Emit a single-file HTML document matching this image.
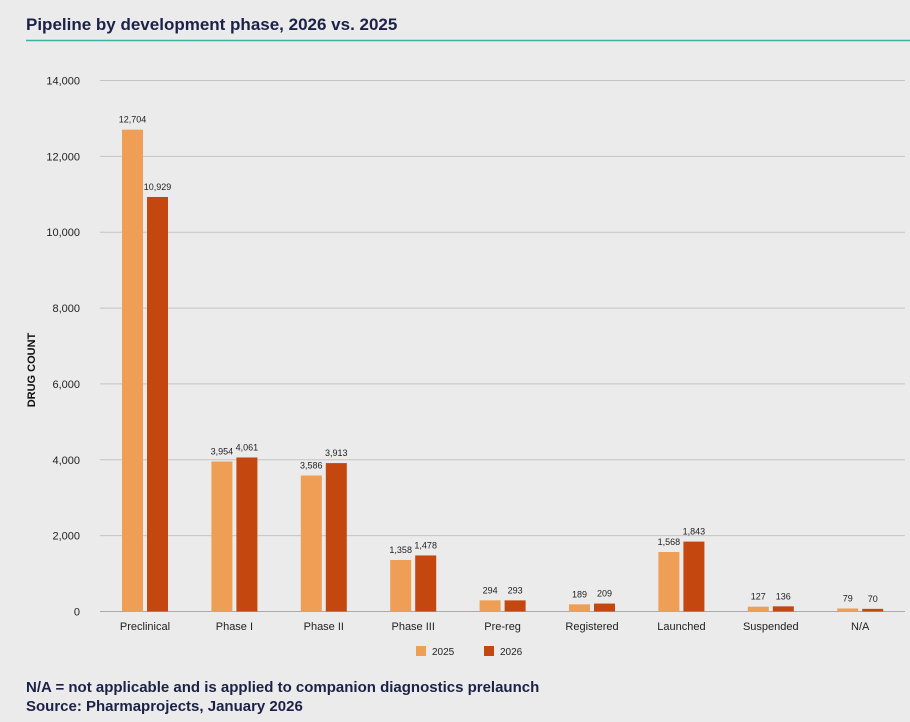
<!DOCTYPE html>
<html><head><meta charset="utf-8"><style>
body{margin:0;background:#ebebeb;width:910px;height:717px;overflow:hidden;font-family:"Liberation Sans",sans-serif;}
</style></head><body>
<svg width="910" height="717" id="c">
<text x="26" y="30" font-size="17" font-weight="bold" fill="#1c2147">Pipeline by development phase, 2026 vs. 2025</text>
<line x1="26" y1="40.5" x2="910" y2="40.5" stroke="#3bb3a4" stroke-width="1.5"/>
<text transform="translate(35,370) rotate(-90)" text-anchor="middle" font-size="11" font-weight="bold" fill="#111">DRUG COUNT</text>
<g id="legend">
<rect x="416" y="646" width="10" height="10" fill="#ee9e55"/>
<text x="432" y="655" font-size="10" fill="#222">2025</text>
<rect x="484" y="646" width="10" height="10" fill="#c4470f"/>
<text x="500" y="655" font-size="10" fill="#222">2026</text>
</g>
<text x="26" y="692" font-size="15" font-weight="bold" fill="#1c2147">N/A = not applicable and is applied to companion diagnostics prelaunch</text>
<text x="26" y="711" font-size="15" font-weight="bold" fill="#1c2147">Source: Pharmaprojects, January 2026</text>
</svg>
<script>
const categories=["Preclinical","Phase I","Phase II","Phase III","Pre-reg","Registered","Launched","Suspended","N/A"];
const values2025=[12704,3954,3586,1358,294,189,1568,127,79];
const values2026=[10929,4061,3913,1478,293,209,1843,136,70];
const yTicks=[0,2000,4000,6000,8000,10000,12000,14000];
const svg=document.getElementById('c');const NS='http://www.w3.org/2000/svg';
const y=v=>611.5-v*(611.5-80.5)/14000;
const xc=i=>145+i*89.4;
function mk(t,a,txt){const e=document.createElementNS(NS,t);for(const k in a)e.setAttribute(k,a[k]);if(txt!=null)e.textContent=txt;svg.appendChild(e);return e;}
const fmt=v=>v.toLocaleString('en-US');
yTicks.forEach(t=>{
 const l=mk('line',{x1:100,x2:905,y1:y(t),y2:y(t),stroke:t===0?'#aaa':'#c4c4c4','stroke-width':1});
 
 
 const tx=mk('text',{x:80,y:y(t)+4,'text-anchor':'end','font-size':11,fill:'#222'},fmt(t));
 
 
});
categories.forEach((c,i)=>{
 const cx=xc(i);
 [[values2025[i],'#ee9e55',cx-23,'2025'],[values2026[i],'#c4470f',cx+2,'2026']].forEach(([v,col,x,s])=>{
  const r=mk('rect',{x:x,y:y(v),width:21,height:611.5-y(v),fill:col});
  
  
  const t=mk('text',{x:x+10.5,y:y(v)-7,'text-anchor':'middle','font-size':9,fill:'#222'},fmt(v));
  
  
 });
 const t=mk('text',{x:cx,y:630,'text-anchor':'middle','font-size':11,fill:'#222'},c);
 
 
});
</script>
</body></html>
